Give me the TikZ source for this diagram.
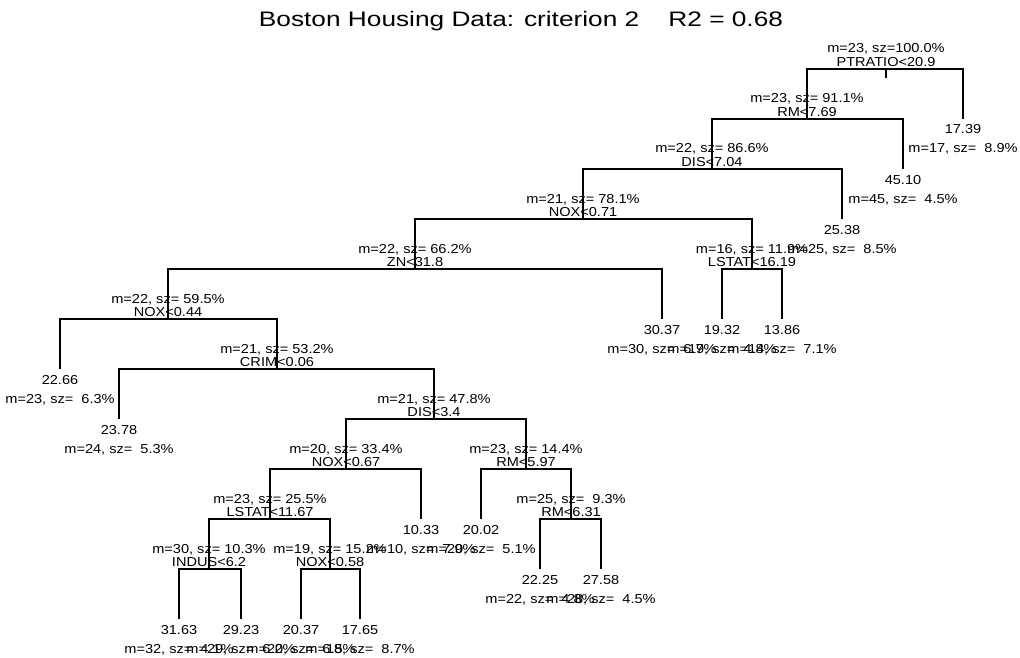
\documentclass[tikz,border=0pt]{standalone}
\usepackage{fontspec}
\newfontfamily\treefont[FakeStretch=1.12]{Liberation Sans}
\newfontfamily\titlefont[FakeStretch=1.25]{Liberation Sans}
\tikzset{
  edge/.style={line width=1.25pt, black},
  mtext/.style={anchor=base, inner sep=0pt, font=\treefont\fontsize{13}{13}\selectfont},
  rtext/.style={anchor=base, inner sep=0pt, font=\treefont\fontsize{13}{13}\selectfont},
  vtext/.style={anchor=base, inner sep=0pt, font=\treefont\fontsize{13}{13}\selectfont},
  titletext/.style={anchor=base, inner sep=0pt, font=\titlefont\fontsize{21}{21}\selectfont}
}
\newcommand\TreeSplit[5]{%
  \coordinate (#1) at (#2,#3);
  \node[mtext] (#1m) at ({#2},{#3-16}) {#4};
  \node[rtext] (#1r) at ({#2},{#3-2.5}) {#5};
}
\newcommand\TreeLeaf[5]{%
  \coordinate (#1) at ({#2},{#3+50});
  \node[vtext] (#1v) at ({#2},{#3+65}) {#4};
  \node[mtext] (#1m) at ({#2},{#3+84}) {#5};
}
\begin{document}
\begin{tikzpicture}[x=1pt,y=-1pt]
\useasboundingbox[fill=white] (0,0) rectangle (1020,658);
\node[titletext] (title) at (521,27) {Boston Housing Data: criterion 2\ \ \ \ R2 = 0.68};
% internal nodes
\TreeSplit{root}{886}{69}{m=23, sz=100.0\%}{PTRATIO<20.9}
\TreeSplit{rmA}{807}{119}{m=23, sz=\ 91.1\%}{RM<7.69}
\TreeSplit{disA}{712}{169}{m=22, sz=\ 86.6\%}{DIS<7.04}
\TreeSplit{noxA}{583}{219}{m=21, sz=\ 78.1\%}{NOX<0.71}
\TreeSplit{zn}{415}{269}{m=22, sz=\ 66.2\%}{ZN<31.8}
\TreeSplit{lstA}{752}{269}{m=16, sz=\ 11.9\%}{LSTAT<16.19}
\TreeSplit{noxB}{168}{319}{m=22, sz=\ 59.5\%}{NOX<0.44}
\TreeSplit{crim}{277}{369}{m=21, sz=\ 53.2\%}{CRIM<0.06}
\TreeSplit{disB}{434}{419}{m=21, sz=\ 47.8\%}{DIS<3.4}
\TreeSplit{noxC}{346}{469}{m=20, sz=\ 33.4\%}{NOX<0.67}
\TreeSplit{rmB}{526}{469}{m=23, sz=\ 14.4\%}{RM<5.97}
\TreeSplit{lstB}{270}{519}{m=23, sz=\ 25.5\%}{LSTAT<11.67}
\TreeSplit{rmC}{571}{519}{m=25, sz=\ \ 9.3\%}{RM<6.31}
\TreeSplit{indus}{209}{569}{m=30, sz=\ 10.3\%}{INDUS<6.2}
\TreeSplit{noxD}{330}{569}{m=19, sz=\ 15.2\%}{NOX<0.58}
% leaves
\TreeLeaf{l1}{963}{69}{17.39}{m=17, sz=\ \ 8.9\%}
\TreeLeaf{l2}{903}{119}{45.10}{m=45, sz=\ \ 4.5\%}
\TreeLeaf{l3}{842}{169}{25.38}{m=25, sz=\ \ 8.5\%}
\TreeLeaf{l4}{662}{269}{30.37}{m=30, sz=\ \ 6.7\%}
\TreeLeaf{l5}{722}{269}{19.32}{m=19, sz=\ \ 4.8\%}
\TreeLeaf{l6}{782}{269}{13.86}{m=14, sz=\ \ 7.1\%}
\TreeLeaf{l7}{60}{319}{22.66}{m=23, sz=\ \ 6.3\%}
\TreeLeaf{l8}{119}{369}{23.78}{m=24, sz=\ \ 5.3\%}
\TreeLeaf{l9}{421}{469}{10.33}{m=10, sz=\ \ 7.9\%}
\TreeLeaf{l10}{481}{469}{20.02}{m=20, sz=\ \ 5.1\%}
\TreeLeaf{l11}{540}{519}{22.25}{m=22, sz=\ \ 4.8\%}
\TreeLeaf{l12}{601}{519}{27.58}{m=28, sz=\ \ 4.5\%}
\TreeLeaf{l13}{179}{569}{31.63}{m=32, sz=\ \ 4.1\%}
\TreeLeaf{l14}{241}{569}{29.23}{m=29, sz=\ \ 6.2\%}
\TreeLeaf{l15}{301}{569}{20.37}{m=20, sz=\ \ 6.5\%}
\TreeLeaf{l16}{360}{569}{17.65}{m=18, sz=\ \ 8.7\%}
% connectors
\coordinate (roottick) at (886,78);
\draw[edge] (root) -- (roottick);
\foreach \p/\c in {root/rmA, root/l1, rmA/disA, rmA/l2, disA/noxA, disA/l3,
  noxA/zn, noxA/lstA, zn/noxB, zn/l4, lstA/l5, lstA/l6, noxB/l7, noxB/crim,
  crim/l8, crim/disB, disB/noxC, disB/rmB, noxC/lstB, noxC/l9, rmB/l10, rmB/rmC,
  lstB/indus, lstB/noxD, rmC/l11, rmC/l12, indus/l13, indus/l14, noxD/l15, noxD/l16}
  \draw[edge] (\p) -| (\c);
\end{tikzpicture}
\end{document}
